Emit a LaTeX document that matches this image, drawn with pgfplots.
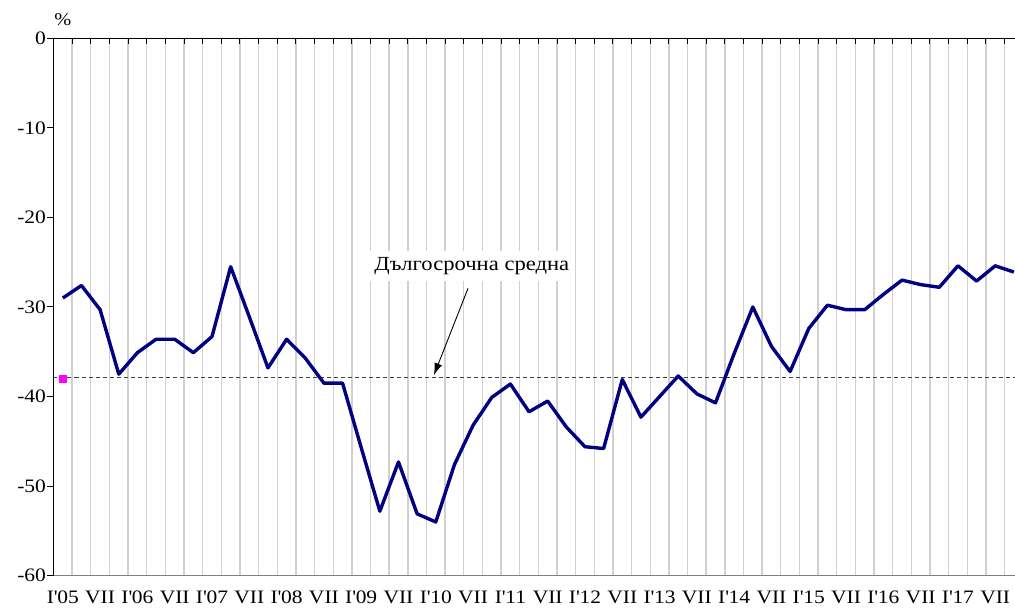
\documentclass[border=0pt]{standalone}
\usepackage{fontspec}
\setmainfont{Liberation Serif}[FakeStretch=1.13]
\usepackage{pgfplots}
\pgfplotsset{compat=1.18}
\usetikzlibrary{arrows.meta}

\definecolor{serie}{HTML}{000080}
\definecolor{gridc}{HTML}{D0D0D0}
\definecolor{avgc}{HTML}{404040}
\definecolor{avgmark}{HTML}{FF00FF}
\newcommand{\q}{\textquotesingle}

\begin{document}
\begin{tikzpicture}[x=1pt,y=1pt]
\useasboundingbox (-53.5,-32.3) rectangle (961.5,575.7);
\begin{axis}[
  at={(0,0)}, anchor=south west,
  scale only axis,
  width=961.5pt, height=537.4pt,
  xmin=-0.5, xmax=51.06,
  ymin=-60, ymax=0,
  clip=false,
  axis line style={draw=none},
  tick label style={font=\fontsize{19}{22}\selectfont},
  % gridlines between the quarters, ticks only on the top line
  xtick={0.5,1.5,...,50.5},
  xticklabels={},
  xmajorgrids,
  major x grid style={gridc, line width=1.4pt},
  xtick pos=right,
  xticklabel pos=left,
  xtick align=inside,
  extra x ticks={0,2,...,50},
  extra x tick labels={I\q05,VII,I\q06,VII,I\q07,VII,I\q08,VII,I\q09,VII,I\q10,VII,I\q11,VII,I\q12,VII,I\q13,VII,I\q14,VII,I\q15,VII,I\q16,VII,I\q17,VII},
  extra x tick style={major tick length=0pt, xmajorgrids=false, xticklabel pos=left},
  xticklabel style={yshift=-12pt},
  ytick={-60,-50,...,0},
  yticklabels={-60,-50,-40,-30,-20,-10,0},
  yticklabel style={xshift=2pt},
  ytick pos=left,
  ytick align=outside,
  major tick length=6pt,
  tick style={black, line width=1pt},
]
\draw[gray, line width=1pt] (rel axis cs:0,0) -- (rel axis cs:1,0);
\draw[black, line width=1.2pt] (rel axis cs:0,0) -- (rel axis cs:0,1) -- (rel axis cs:1,1);

% long-term average
\addplot[avgc, line width=1.2pt, dash pattern=on 4pt off 3pt] coordinates {(-0.5,-37.85) (51.06,-37.85)};
\addplot[only marks, mark=square*, mark size=3.5pt, color=avgmark] coordinates {(0,-37.95)};

\addplot[serie, line width=3.4pt, line join=round] coordinates {
(0,-29.0) (1,-27.6) (2,-30.3) (3,-37.5) (4,-35.1) (5,-33.6) (6,-33.6) (7,-35.1)
(8,-33.3) (9,-25.5) (10,-31.1) (11,-36.8) (12,-33.6) (13,-35.7) (14,-38.5) (15,-38.5)
(16,-45.7) (17,-52.8) (18,-47.3) (19,-53.1) (20,-54.0) (21,-47.6) (22,-43.2) (23,-40.1)
(24,-38.6) (25,-41.7) (26,-40.5) (27,-43.4) (28,-45.6) (29,-45.8) (30,-38.1) (31,-42.3)
(32,-40.0) (33,-37.7) (34,-39.7) (35,-40.7) (36,-35.2) (37,-30.0) (38,-34.4) (39,-37.2)
(40,-32.4) (41,-29.8) (42,-30.3) (43,-30.3) (44,-28.6) (45,-27.0) (46,-27.5) (47,-27.8)
(48,-25.4) (49,-27.1) (50,-25.4) (51,-26.1)
};

\node[fill=white, inner xsep=5pt, inner ysep=6pt, font=\fontsize{20}{24}\selectfont] at (axis cs:21.93,-25.42) {Дългосрочна средна};
\draw[-{Latex[length=12pt,width=8pt]}, line width=0.9pt] (axis cs:21.73,-27.91) -- (axis cs:19.90,-37.60);
\node[font=\fontsize{18}{21}\selectfont] at (axis cs:0,2.1) {\%};
\end{axis}
\end{tikzpicture}
\end{document}
